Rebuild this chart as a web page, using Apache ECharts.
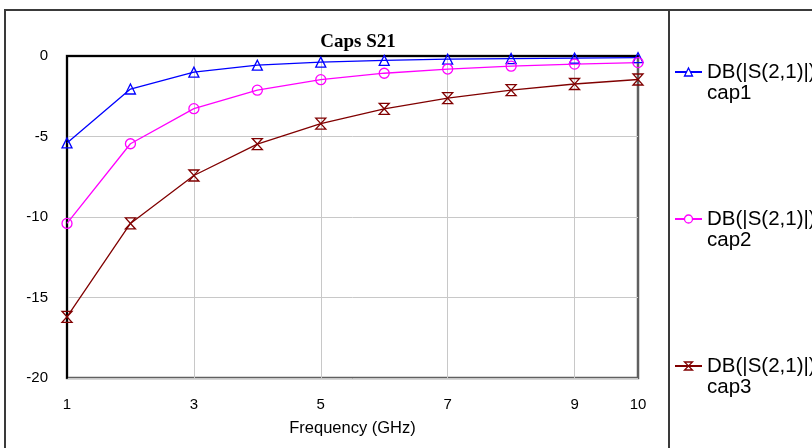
<!DOCTYPE html>
<html>
<head>
<meta charset="utf-8">
<script src="https://cdn.jsdelivr.net/npm/echarts@6/dist/echarts.min.js"></script>
<style>
  html, body { margin: 0; padding: 0; background: #fff; }
  #chart { width: 812px; height: 448px; }
</style>
</head>
<body>
<div id="chart"></div>
<script>
// Frequency points (GHz)
const freqs = ['1', '2', '3', '4', '5', '6', '7', '8', '9', '10'];
// Frequencies that carry a tick label
const labelledFreqs = ['1', '3', '5', '7', '9', '10'];
// Frequencies that carry a vertical grid line
const gridFreqs = ['3', '5', '7', '9'];

// Insertion loss, dB(|S(2,1)|), for each capacitor
const cap1 = [-5.4, -2.05, -1.0, -0.57, -0.38, -0.27, -0.2, -0.16, -0.13, -0.1];
const cap2 = [-10.4, -5.45, -3.27, -2.12, -1.47, -1.07, -0.81, -0.63, -0.5, -0.41];
const cap3 = [-16.2, -10.4, -7.42, -5.47, -4.2, -3.28, -2.62, -2.12, -1.74, -1.46];

const seriesNames = ['DB(|S(2,1)|)\ncap1', 'DB(|S(2,1)|)\ncap2', 'DB(|S(2,1)|)\ncap3'];
const seriesColors = ['#0000ff', '#ff00ff', '#800000'];
const seriesSymbols = ['triangle', 'circle', 'path://M0,0L10,0L0,10L10,10Z'];
const symbolSizes = [[10, 10], 10, [10, 11]];
const seriesData = [cap1, cap2, cap3];
const legendTops = [72, 219, 366];

const chart = echarts.init(document.getElementById('chart'), null, { renderer: 'canvas' });

const legendFont = 20.5;
const legendLine = 21;

const option = {
  animation: false,
  backgroundColor: '#ffffff',
  title: {
    text: 'Caps S21',
    left: 353,
    top: 28,
    textAlign: 'center',
    textStyle: {
      fontFamily: 'Liberation Serif',
      fontWeight: 'bold',
      fontSize: 19,
      color: '#000'
    }
  },
  // one legend block per series, icon level with the first text line
  legend: seriesNames.map((name, i) => ({
    data: [name],
    orient: 'vertical',
    left: 674,
    top: legendTops[i] - (legendLine * 3) / 2,
    padding: 0,
    itemWidth: 27,
    itemHeight: 10,
    itemGap: 0,
    selectedMode: false,
    formatter: (n) => '\n' + n,
    itemStyle: { color: '#ffffff', borderColor: seriesColors[i], borderWidth: 1.3 },
    textStyle: {
      fontFamily: 'Liberation Sans',
      fontSize: legendFont,
      lineHeight: legendLine,
      color: '#000'
    }
  })),
  grid: {
    left: 67,
    right: 174,
    top: 56,
    bottom: 70,
    show: true,
    backgroundColor: '#ffffff',
    borderColor: '#606060',
    borderWidth: 2.5
  },
  xAxis: {
    type: 'category',
    data: freqs,
    boundaryGap: false,
    name: 'Frequency (GHz)',
    nameLocation: 'middle',
    nameGap: 42,
    nameTextStyle: {
      fontFamily: 'Liberation Sans',
      fontSize: 16.5,
      color: '#000'
    },
    axisLine: { show: true, lineStyle: { color: '#000', width: 2 } },
    axisTick: { show: false },
    axisLabel: {
      interval: (idx, val) => labelledFreqs.includes(val),
      margin: 19,
      fontFamily: 'Liberation Sans',
      fontSize: 15,
      color: '#000'
    },
    splitLine: {
      show: true,
      interval: (idx, val) => gridFreqs.includes(val),
      lineStyle: { color: '#c8c8c8', width: 1 }
    }
  },
  yAxis: {
    type: 'value',
    min: -20,
    max: 0,
    interval: 5,
    axisLine: { show: true, lineStyle: { color: '#000', width: 2 } },
    axisTick: { show: false },
    axisLabel: {
      margin: 19,
      fontFamily: 'Liberation Sans',
      fontSize: 15,
      color: '#000'
    },
    splitLine: { show: true, lineStyle: { color: '#c8c8c8', width: 1 } }
  },
  graphic: [
    // outer chart frame and divider to the legend panel
    { type: 'line', shape: { x1: 4, y1: 10, x2: 812, y2: 10 }, style: { stroke: '#3a3a3a', lineWidth: 2 }, z: 100 },
    { type: 'line', shape: { x1: 5, y1: 10, x2: 5, y2: 448 }, style: { stroke: '#3a3a3a', lineWidth: 2 }, z: 100 },
    { type: 'line', shape: { x1: 669, y1: 10, x2: 669, y2: 448 }, style: { stroke: '#3a3a3a', lineWidth: 2 }, z: 100 }
  ],
  series: seriesNames.map((name, i) => ({
    name: name,
    type: 'line',
    data: seriesData[i],
    symbol: seriesSymbols[i],
    symbolSize: symbolSizes[i],
    showAllSymbol: true,
    clip: true,
    lineStyle: { color: seriesColors[i], width: 1.3 },
    itemStyle: { color: 'transparent', borderColor: seriesColors[i], borderWidth: 1.3 },
    emphasis: { disabled: true }
  }))
};

chart.setOption(option);
</script>
</body>
</html>
